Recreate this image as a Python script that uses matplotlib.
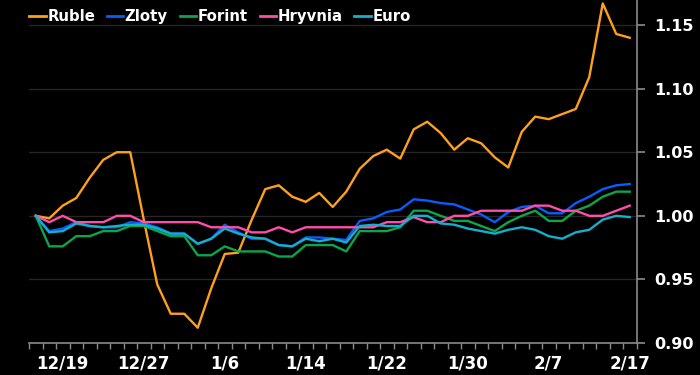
import matplotlib.pyplot as plt
import numpy as np

# normalised currency values, one point per trading day (45 days)
ruble = [1.000, 0.998, 1.008, 1.014, 1.030, 1.044, 1.050, 1.050, 0.997, 0.946,
         0.923, 0.923, 0.912, 0.943, 0.970, 0.971, 0.997, 1.021, 1.024, 1.015,
         1.011, 1.018, 1.007, 1.019, 1.037, 1.047, 1.052, 1.045, 1.068, 1.074,
         1.065, 1.052, 1.061, 1.057, 1.046, 1.038, 1.066, 1.078, 1.076, 1.080,
         1.084, 1.109, 1.167, 1.143, 1.140]
zloty = [1.000, 0.988, 0.990, 0.995, 0.992, 0.991, 0.991, 0.995, 0.994, 0.991,
         0.986, 0.986, 0.978, 0.982, 0.993, 0.987, 0.982, 0.982, 0.977, 0.976,
         0.983, 0.983, 0.982, 0.981, 0.996, 0.998, 1.003, 1.005, 1.013, 1.012,
         1.010, 1.009, 1.005, 1.001, 0.995, 1.003, 1.007, 1.008, 1.002, 1.002,
         1.010, 1.015, 1.021, 1.024, 1.025]
forint = [1.000, 0.976, 0.976, 0.984, 0.984, 0.988, 0.988, 0.992, 0.992, 0.988,
          0.984, 0.984, 0.969, 0.969, 0.976, 0.972, 0.972, 0.972, 0.968, 0.968,
          0.977, 0.977, 0.977, 0.972, 0.988, 0.988, 0.988, 0.991, 1.004, 1.004,
          1.000, 0.996, 0.996, 0.992, 0.988, 0.995, 1.000, 1.004, 0.996, 0.996,
          1.004, 1.008, 1.015, 1.019, 1.019]
hryvnia = [1.000, 0.995, 1.000, 0.995, 0.995, 0.995, 1.000, 1.000, 0.995, 0.995,
           0.995, 0.995, 0.995, 0.991, 0.991, 0.991, 0.987, 0.987, 0.991, 0.987,
           0.991, 0.991, 0.991, 0.991, 0.991, 0.991, 0.995, 0.995, 0.999, 0.995,
           0.995, 1.000, 1.000, 1.004, 1.004, 1.004, 1.004, 1.008, 1.008, 1.004,
           1.004, 1.000, 1.000, 1.004, 1.008]
euro = [1.000, 0.987, 0.988, 0.994, 0.992, 0.991, 0.992, 0.993, 0.993, 0.990,
        0.986, 0.986, 0.978, 0.982, 0.990, 0.986, 0.983, 0.982, 0.977, 0.976,
        0.982, 0.980, 0.982, 0.979, 0.992, 0.993, 0.992, 0.992, 1.000, 1.000,
        0.994, 0.993, 0.990, 0.988, 0.986, 0.989, 0.991, 0.989, 0.984, 0.982,
        0.987, 0.989, 0.997, 1.000, 0.999]

names = ['Ruble', 'Zloty', 'Forint', 'Hryvnia', 'Euro']
colors = ['#FFA01C', '#0A5CFF', '#0BA64B', '#FF4DAA', '#13B0CC']
date_pos = [2, 8, 14, 20, 26, 32, 38, 44]
date_labels = ['12/19', '12/27', '1/6', '1/14', '1/22', '1/30', '2/7', '2/17']
yticks = [0.90, 0.95, 1.00, 1.05, 1.10, 1.15]

fig = plt.figure(figsize=(7, 3.75), dpi=100, facecolor='black')
ax = fig.add_axes([29 / 700, 32 / 375, 607.5 / 700, 343 / 375])
ax.set_facecolor('black')

x = np.arange(len(ruble))
for vals, name, c in zip([ruble, zloty, forint, hryvnia, euro], names, colors):
    ax.plot(x, vals, color=c, lw=1.7, label=name)

ax.set_xlim(-0.5, len(ruble) - 0.5)
ax.set_ylim(0.90, 1.1697)

ax.yaxis.tick_right()
ax.set_yticks(yticks)
ax.set_yticklabels(['%.2f' % v for v in yticks])
ax.grid(axis='y', color='#262626', lw=1)
ax.set_axisbelow(True)

ax.set_xticks(date_pos)
ax.set_xticklabels(date_labels)
ax.set_xticks(np.arange(-0.5, len(ruble), 1.0), minor=True)

for s in ['top', 'left']:
    ax.spines[s].set_visible(False)
for s in ['right', 'bottom']:
    ax.spines[s].set_color('#8a8a8a')
    ax.spines[s].set_linewidth(1.2)

ax.tick_params(axis='y', colors='#8a8a8a', length=6, width=1.2, pad=7,
               labelcolor='white', labelsize=11.5)
ax.tick_params(axis='x', which='major', length=0, pad=8,
               labelcolor='white', labelsize=12)
ax.tick_params(axis='x', which='minor', colors='#8a8a8a', length=4, width=1)
for lab in ax.get_xticklabels() + ax.get_yticklabels():
    lab.set_fontweight('bold')

leg = fig.legend(loc='upper left', bbox_to_anchor=(22 / 700, 1 - 2 / 375), ncol=5,
                 frameon=False, borderpad=0, handlelength=1.1, handletextpad=0.1,
                 columnspacing=0.8, prop={'weight': 'bold', 'size': 10.7})
for t in leg.get_texts():
    t.set_color('white')
for h in leg.legend_handles:
    h.set_linewidth(2)

fig.savefig('out.png', dpi=100, facecolor='black')
